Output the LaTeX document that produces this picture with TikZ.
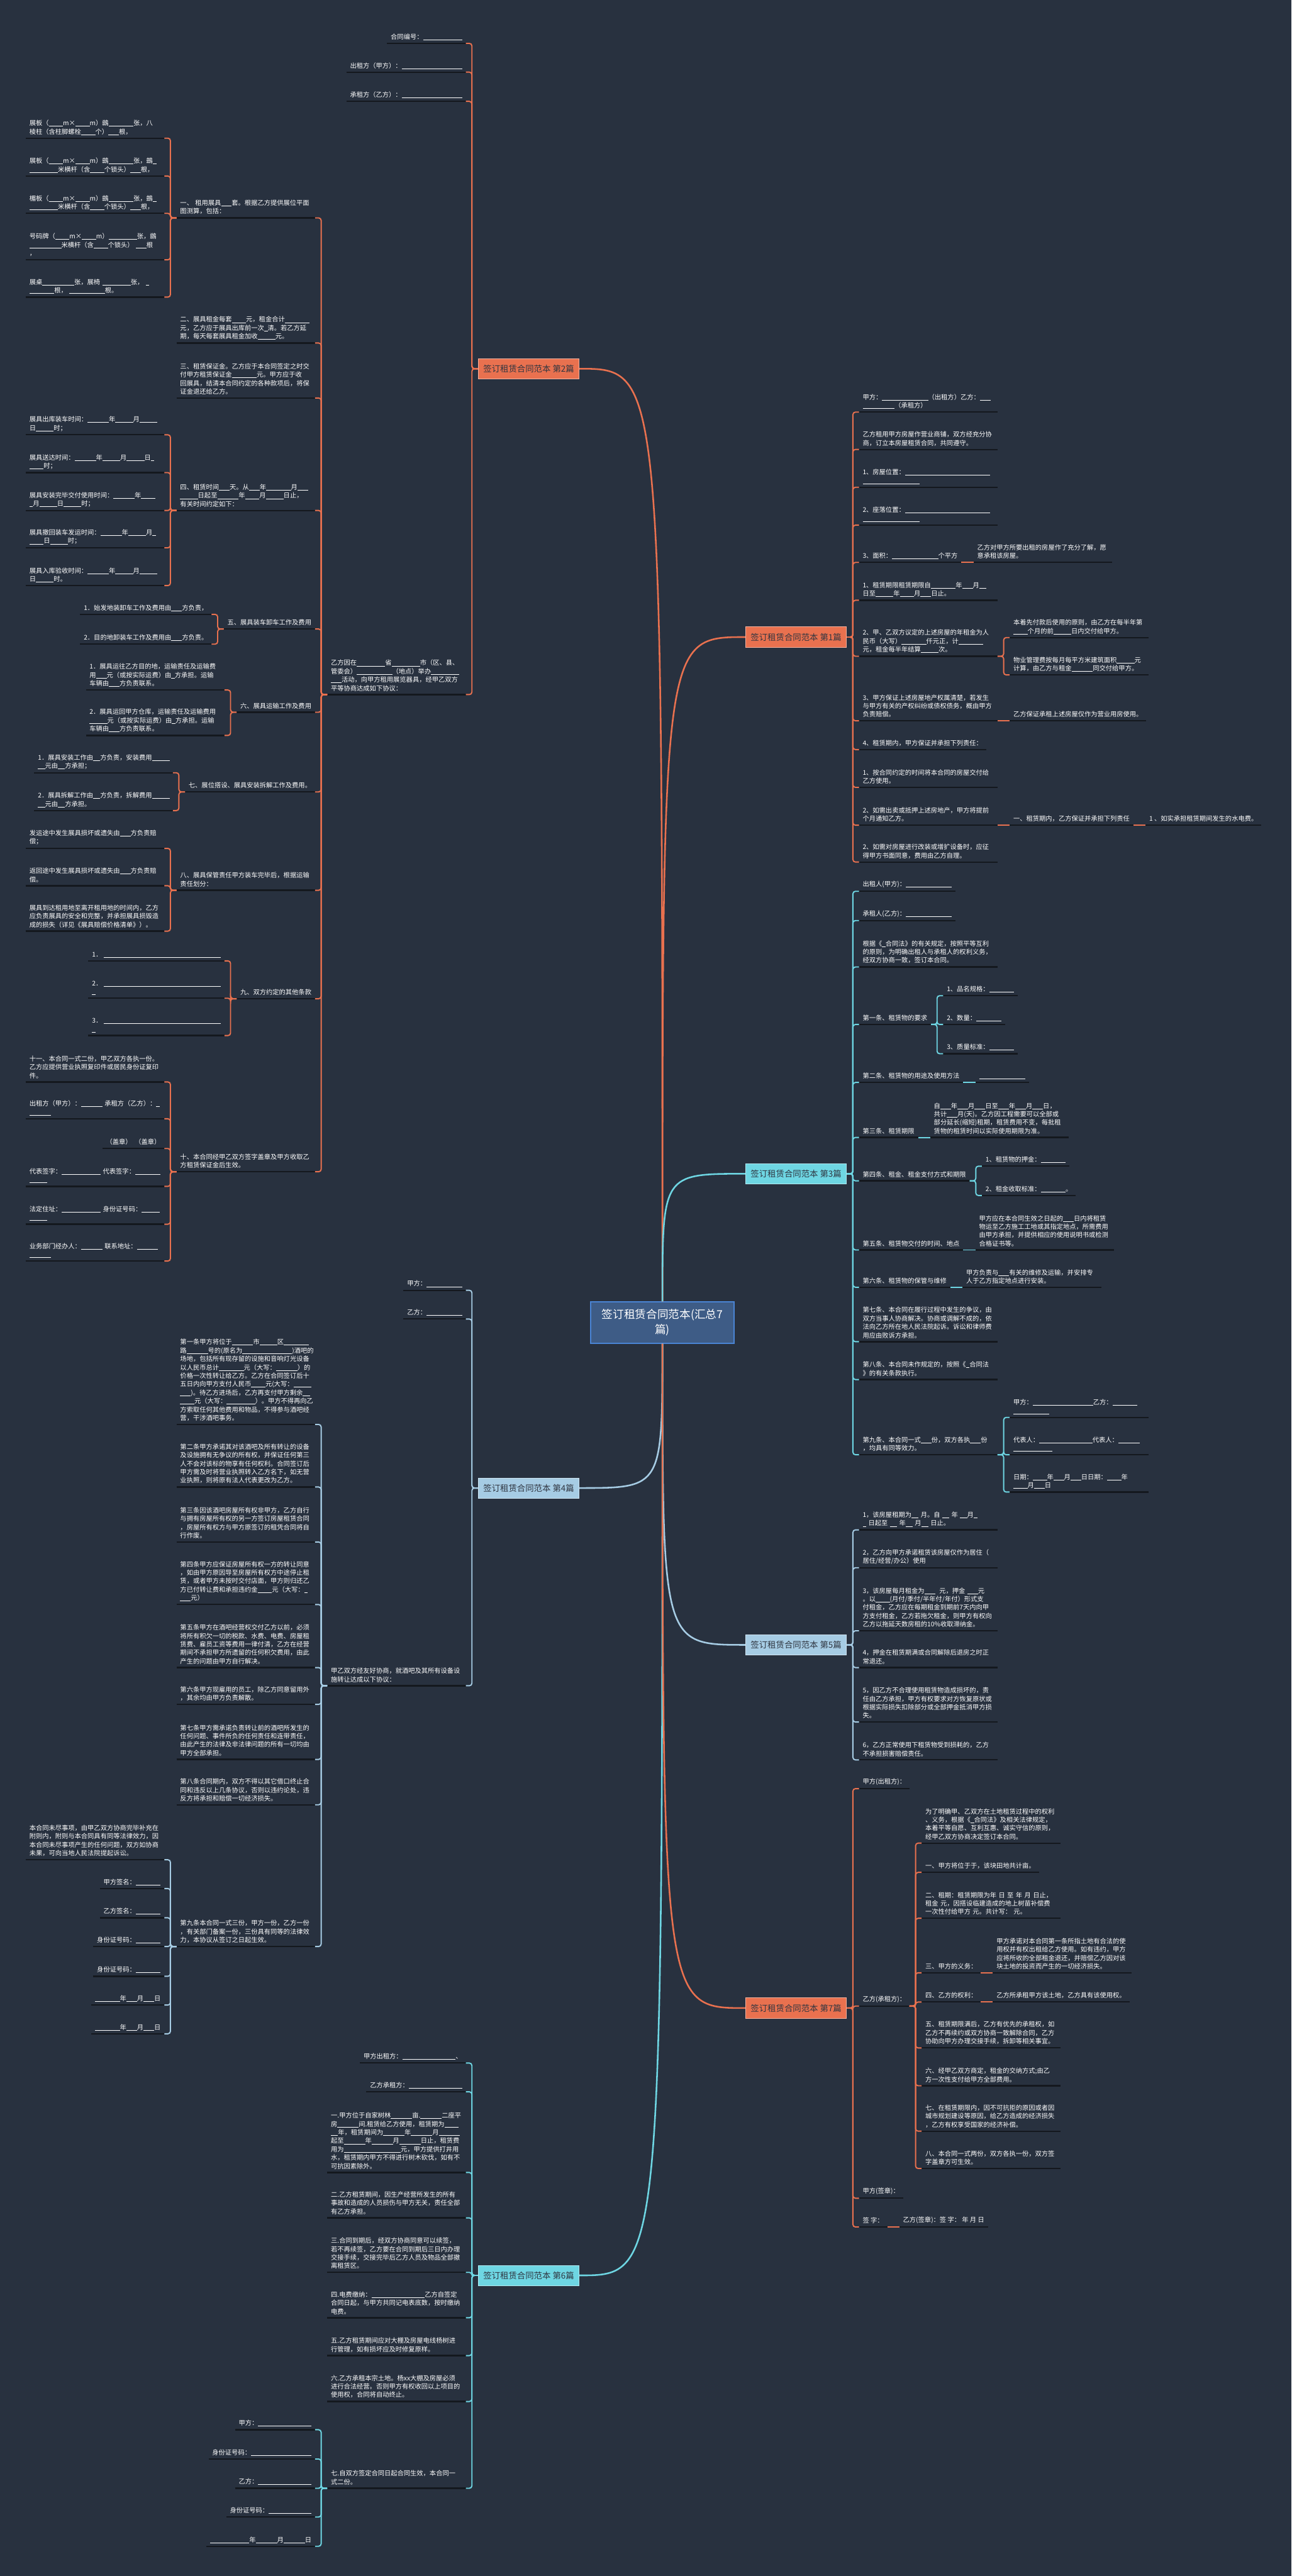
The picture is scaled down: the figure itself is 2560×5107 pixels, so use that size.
\documentclass[tikz,border=0pt]{standalone}
\usepackage{fontspec}
\setmainfont{Noto Sans CJK SC}
\definecolor{bgc}{HTML}{28313F}
\definecolor{coral}{HTML}{E9714F}
\definecolor{cyanb}{HTML}{6ED6E3}
\definecolor{lblue}{HTML}{A6CCE4}
\definecolor{ulcol}{HTML}{14181E}
\definecolor{cfill}{HTML}{3E5C86}
\definecolor{cbord}{HTML}{4A84D4}
\definecolor{brtext}{HTML}{2F3540}
\newcommand\bl[1]{\rule[-0.12em]{\dimexpr0.55em*#1\relax}{0.06em}}
\newcommand\lfont{\fontsize{6.4pt}{8.35pt}\selectfont}
\newcommand\brfont{\fontsize{8.35pt}{10pt}\selectfont}
\newcommand\cfont{\fontsize{11pt}{15pt}\selectfont}
\tikzset{
  lf/.style={font=\lfont, text=white, inner xsep=3.5pt, inner ysep=3.2pt, align=left,
    append after command={(\tikzlastnode.south west) edge[ulc] (\tikzlastnode.south east)}},
  lw/.style={lf, text width=130pt},
  Lc/.style={lf, anchor=south east, xshift=-12pt},
  Rc/.style={lf, anchor=south west, xshift=12pt},
  Lw/.style={lw, anchor=south east, xshift=-12pt},
  Rw/.style={lw, anchor=south west, xshift=12pt},
  ulc/.style={draw=ulcol, line width=1.4pt},
  br/.style={draw=#1!55!white, line width=0.6pt, fill=#1, text=brtext, font=\brfont,
    minimum width=100pt, minimum height=20pt, inner sep=2pt},
  kc/.style={draw=coral, line width=1.2pt, rounded corners=2.5pt},
  kt/.style={draw=cyanb, line width=1.2pt, rounded corners=2.5pt},
  kb/.style={draw=lblue, line width=1.2pt, rounded corners=2.5pt},
  mc/.style={line width=1.6pt},
}
\begin{document}
\begin{tikzpicture}[x=0.5pt,y=-0.5pt]
\fill[bgc] (0,0) rectangle (2560,5107);
\useasboundingbox (0,0) rectangle (2560,5107);

% center
\node[draw=cbord, line width=1pt, fill=cfill, text=white, font=\cfont, align=center,
  minimum width=142pt, minimum height=41pt, inner sep=2pt] (c) at (1313,2622) {签订租赁合同范本(汇总7\\篇)};

% branches
\node[br=coral] (b1) at (1578,1263) {签订租赁合同范本 第1篇};
\node[br=coral] (b2) at (1048,731) {签订租赁合同范本 第2篇};
\node[br=cyanb] (b3) at (1578,2327) {签订租赁合同范本 第3篇};
\node[br=lblue] (b4) at (1048,2950) {签订租赁合同范本 第4篇};
\node[br=lblue] (b5) at (1578,3261) {签订租赁合同范本 第5篇};
\node[br=cyanb] (b6) at (1048,4511) {签订租赁合同范本 第6篇};
\node[br=coral] (b7) at (1578,3981) {签订租赁合同范本 第7篇};

\draw[mc, coral] (c.north) .. controls (c.north |- b2.east) .. (b2.east);
\draw[mc, coral] (c.north) .. controls (c.north |- b1.west) .. (b1.west);
\draw[mc, cyanb] (c.north) .. controls (c.north |- b3.west) .. (b3.west);
\draw[mc, lblue] (c.south) .. controls (c.south |- b4.east) .. (b4.east);
\draw[mc, lblue] (c.south) .. controls (c.south |- b5.west) .. (b5.west);
\draw[mc, cyanb] (c.south) .. controls (c.south |- b6.east) .. (b6.east);
\draw[mc, coral] (c.south) .. controls (c.south |- b7.west) .. (b7.west);

% ================= 第2篇 =================
\node[Lc] (A2a) at (b2.west |- 0,86) {合同编号：\bl{11}};
\node[Lc] (A2b) at (b2.west |- 0,143) {出租方（甲方）：\bl{17}};
\node[Lc] (A2c) at (b2.west |- 0,201) {承租方（乙方）：\bl{17}};
\node[Lw] (A2d) at (b2.west |- 0,1377) {乙方因在\bl{8}省\bl{8}市（区、县、\\管委会）\bl{10}（地点）举办\bl{8}\\\bl{3}活动，向甲方租用展览器具，经甲乙双方\\平等协商达成如下协议：};
\foreach \n in {A2a,A2b,A2c,A2d} \draw[kc] (b2.west) -- ++(-12,0) |- (\n.south east);

\node[Lw] (A2d1) at (A2d.south west |- 0,432) {一、 租用展具\bl{3}套。根据乙方提供展位平面\\图测算，包括：};
\node[Lw] (A2d2) at (A2d.south west |- 0,680) {二、展具租金每套\bl{4}元，租金合计\bl{7}\\元，乙方应于展具出库前一次\bl{1}清。若乙方延\\期，每天每套展具租金加收\bl{5}元。};
\node[Lw] (A2d3) at (A2d.south west |- 0,789) {三、租赁保证金。乙方应于本合同签定之时交\\付甲方租赁保证金\bl{7}元。甲方应于收\\回展具，结清本合同约定的各种款项后，将保\\证金退还给乙方。};
\node[Lw] (A2d4) at (A2d.south west |- 0,1012) {四、租赁时间\bl{3}天。从\bl{3}年\bl{7}月\bl{3}\\\bl{5}日起至\bl{6}年\bl{4}月\bl{5}日止，\\有关时间约定如下：};
\node[Lc] (A2d5) at (A2d.south west |- 0,1247) {五、展具装车卸车工作及费用};
\node[Lc] (A2d6) at (A2d.south west |- 0,1412) {六、展具运输工作及费用};
\node[Lc] (A2d7) at (A2d.south west |- 0,1570) {七、展位搭设、展具安装拆解工作及费用。};
\node[Lw] (A2d8) at (A2d.south west |- 0,1765) {八、展具保管责任甲方装车完毕后，根据运输\\责任划分：};
\node[Lc] (A2d9) at (A2d.south west |- 0,1980) {九、双方约定的其他条款};
\node[Lw] (A2d10) at (A2d.south west |- 0,2323) {十、本合同经甲乙双方签字盖章及甲方收取乙\\方租赁保证金后生效。};
\foreach \n in {A2d1,A2d2,A2d3,A2d4,A2d5,A2d6,A2d7,A2d8,A2d9,A2d10} \draw[kc] (A2d.south west) -- ++(-12,0) |- (\n.south east);

\node[Lw] (A2d1a) at (A2d1.south west |- 0,274) {展板（\bl{4}m×\bl{4}m）鷀\bl{7}张，八\\棱柱（含柱脚螺栓\bl{4}个）\bl{3}根，};
\node[Lw] (A2d1b) at (A2d1.south west |- 0,349) {展板（\bl{4}m×\bl{4}m）鷀\bl{7}张，鷀\bl{1}\\\bl{8}米横杆（含\bl{4}个锁头）\bl{3}根，};
\node[Lw] (A2d1c) at (A2d1.south west |- 0,423) {楣板（\bl{4}m×\bl{4}m）鷀\bl{7}张，鷀\bl{1}\\\bl{8}米横杆（含\bl{4}个锁头）\bl{3}根，};
\node[Lw] (A2d1d) at (A2d1.south west |- 0,515) {号码牌（\bl{4}m×\bl{4}m）\bl{8}张，鷀\\\bl{9}米横杆（含\bl{4}个锁头）~\bl{3}根\\，};
\node[Lw] (A2d1e) at (A2d1.south west |- 0,589) {展桌\bl{9}张，展椅~\bl{8}张，~\bl{1}\\\bl{7}根，~\bl{10}根。};
\foreach \n in {A2d1a,A2d1b,A2d1c,A2d1d,A2d1e} \draw[kc] (A2d1.south west) -- ++(-12,0) |- (\n.south east);

\node[Lw] (A2d4a) at (A2d4.south west |- 0,862) {展具出库装车时间：\bl{6}年\bl{5}月\bl{5}\\日\bl{5}时；};
\node[Lw] (A2d4b) at (A2d4.south west |- 0,937) {展具送达时间：\bl{6}年\bl{5}月\bl{5}日\bl{1}\\\bl{4}时；};
\node[Lw] (A2d4c) at (A2d4.south west |- 0,1012) {展具安装完毕交付使用时间：\bl{6}年\bl{4}\\\bl{1}月\bl{5}日\bl{5}时；};
\node[Lw] (A2d4d) at (A2d4.south west |- 0,1086) {展具撤回装车发运时间：\bl{6}年\bl{5}月\bl{1}\\\bl{4}日\bl{5}时；};
\node[Lw] (A2d4e) at (A2d4.south west |- 0,1161) {展具入库验收时间：\bl{6}年\bl{5}月\bl{5}\\日\bl{5}时。};
\foreach \n in {A2d4a,A2d4b,A2d4c,A2d4d,A2d4e} \draw[kc] (A2d4.south west) -- ++(-12,0) |- (\n.south east);

\node[Lc] (A2d5a) at (A2d5.south west |- 0,1218) {1．始发地装卸车工作及费用由\bl{3}方负责，};
\node[Lc] (A2d5b) at (A2d5.south west |- 0,1277) {2．目的地卸装车工作及费用由\bl{3}方负责。};
\foreach \n in {A2d5a,A2d5b} \draw[kc] (A2d5.south west) -- ++(-12,0) |- (\n.south east);

\node[Lw] (A2d6a) at (A2d6.south west |- 0,1368) {1．展具运往乙方目的地，运输责任及运输费\\用\bl{3}元（或按实际运费）由\bl{1}方承担。运输\\车辆由\bl{3}方负责联系。};
\node[Lw] (A2d6b) at (A2d6.south west |- 0,1458) {2．展具运回甲方仓库，运输责任及运输费用\\\bl{5}元（或按实际运费）由\bl{1}方承担。运输\\车辆由\bl{3}方负责联系。};
\foreach \n in {A2d6a,A2d6b} \draw[kc] (A2d6.south west) -- ++(-12,0) |- (\n.south east);

\node[Lw] (A2d7a) at (A2d7.south west |- 0,1532) {1．展具安装工作由\bl{2}方负责，安装费用\bl{5}\\\bl{2}元由\bl{2}方承担；};
\node[Lw] (A2d7b) at (A2d7.south west |- 0,1607) {2．展具拆解工作由\bl{2}方负责，拆解费用\bl{5}\\\bl{2}元由\bl{2}方承担。};
\foreach \n in {A2d7a,A2d7b} \draw[kc] (A2d7.south west) -- ++(-12,0) |- (\n.south east);

\node[Lw] (A2d8a) at (A2d8.south west |- 0,1682) {发运途中发生展具损坏或遗失由\bl{3}方负责赔\\偿；};
\node[Lw] (A2d8b) at (A2d8.south west |- 0,1756) {返回途中发生展具损坏或遗失由\bl{3}方负责赔\\偿。};
\node[Lw] (A2d8c) at (A2d8.south west |- 0,1846) {展具到达租用地至离开租用地的时间内，乙方\\应负责展具的安全和完整，并承担展具损毁造\\成的损失（详见《展具赔偿价格清单》）。};
\foreach \n in {A2d8a,A2d8b,A2d8c} \draw[kc] (A2d8.south west) -- ++(-12,0) |- (\n.south east);

\node[Lc] (A2d9a) at (A2d9.south west |- 0,1905) {1．~\bl{33}};
\node[Lc] (A2d9b) at (A2d9.south west |- 0,1979) {2．~\bl{33}\\\bl{1}};
\node[Lc] (A2d9c) at (A2d9.south west |- 0,2053) {3．~\bl{33}\\\bl{1}};
\foreach \n in {A2d9a,A2d9b,A2d9c} \draw[kc] (A2d9.south west) -- ++(-12,0) |- (\n.south east);

\node[Lw] (A2d10a) at (A2d10.south west |- 0,2145) {十一、本合同一式二份，甲乙双方各执一份。\\乙方应提供营业执照复印件或居民身份证复印\\件。};
\node[Lw] (A2d10b) at (A2d10.south west |- 0,2218) {出租方（甲方）：\bl{6}~承租方（乙方）：\bl{1}\\\bl{6}};
\node[Lc] (A2d10c) at (A2d10.south west |- 0,2277) {（盖章）~~（盖章）};
\node[Lw] (A2d10d) at (A2d10.south west |- 0,2352) {代表签字：\bl{11}~代表签字：\bl{7}\\\bl{5}};
\node[Lw] (A2d10e) at (A2d10.south west |- 0,2427) {法定住址：\bl{11}~身份证号码：\bl{5}\\\bl{5}};
\node[Lw] (A2d10f) at (A2d10.south west |- 0,2500) {业务部门经办人：\bl{6}~联系地址：\bl{6}\\\bl{6}};
\foreach \n in {A2d10a,A2d10b,A2d10c,A2d10d,A2d10e,A2d10f} \draw[kc] (A2d10.south west) -- ++(-12,0) |- (\n.south east);

% ================= 第4篇 =================
\node[Lc] (A4a) at (b4.west |- 0,2558) {甲方：\bl{10}};
\node[Lc] (A4b) at (b4.west |- 0,2615) {乙方：\bl{10}};
\node[Lw] (A4c) at (b4.west |- 0,3342) {甲乙双方经友好协商，就酒吧及其所有设备设\\施转让达成以下协议：};
\foreach \n in {A4a,A4b,A4c} \draw[kb] (b4.west) -- ++(-12,0) |- (\n.south east);

\node[Lw] (A4c1) at (A4c.south west |- 0,2824) {第一条甲方将位于\bl{6}市\bl{5}区\bl{7}\\路\bl{6}号的(原名为\bl{14})酒吧的\\场地，包括所有现存留的设施和音响灯光设备\\以人民币总计\bl{7}元（大写：\bl{6}）的\\价格一次性转让给乙方。乙方在合同签订后十\\五日内向甲方支付人民币\bl{4}元(大写：\bl{5}\\\bl{3})。待乙方进场后，乙方再支付甲方剩余\bl{2}\\\bl{4}元（大写：\bl{8}）。甲方不得再向乙\\方索取任何其他费用和物品，不得参与酒吧经\\营，干涉酒吧事务。};
\node[Lw] (A4c2) at (A4c.south west |- 0,2948) {第二条甲方承诺其对该酒吧及所有转让的设备\\及设施拥有无争议的所有权，并保证任何第三\\人不会对该标的物享有任何权利。合同签订后\\甲方需及时将营业执照转入乙方名下，如无营\\业执照，则将原有法人代表更改为乙方。};
\node[Lw] (A4c3) at (A4c.south west |- 0,3057) {第三条因该酒吧房屋所有权非甲方，乙方自行\\与拥有房屋所有权的另一方签订房屋租赁合同\\，房屋所有权方与甲方原签订的租凭合同将自\\行作废。};
\node[Lw] (A4c4) at (A4c.south west |- 0,3181) {第四条甲方应保证房屋所有权一方的转让同意\\，如由甲方原因导至房屋所有权方中途停止租\\赁，或者甲方未按时交付店面，甲方则归还乙\\方已付转让费和承担违约金\bl{4}元（大写：\bl{1}\\\bl{3}元）};
\node[Lw] (A4c5) at (A4c.south west |- 0,3306) {第五条甲方在酒吧经营权交付乙方以前，必须\\将所有积欠一切的税款、水费、电费、房屋租\\赁费、雇员工资等费用一律付清，乙方在经营\\期间不承担甲方所遗留的任何积欠费用，由此\\产生的问题由甲方自行解决。};
\node[Lw] (A4c6) at (A4c.south west |- 0,3379) {第六条甲方现雇用的员工，除乙方同意留用外\\，其余均由甲方负责解散。};
\node[Lw] (A4c7) at (A4c.south west |- 0,3488) {第七条甲方需承诺负责转让前的酒吧所发生的\\任何问题、事件所负的任何责任和连带责任，\\由此产生的法律及非法律问题的所有一切均由\\甲方全部承担。};
\node[Lw] (A4c8) at (A4c.south west |- 0,3578) {第八条合同期内，双方不得以其它借口终止合\\同和违反以上几条协议，否则以违约论处，违\\反方将承担和赔偿一切经济损失。};
\node[Lw] (A4c9) at (A4c.south west |- 0,3859) {第九条本合同一式三份，甲方一份，乙方一份\\，有关部门备案一份，三份具有同等的法律效\\力，本协议从签订之日起生效。};
\foreach \n in {A4c1,A4c2,A4c3,A4c4,A4c5,A4c6,A4c7,A4c8,A4c9} \draw[kb] (A4c.south west) -- ++(-12,0) |- (\n.south east);

\node[Lw] (A4c9a) at (A4c9.south west |- 0,3687) {本合同未尽事项，由甲乙双方协商完毕补充在\\附则内，附则与本合同具有同等法律效力，因\\本合同未尽事项产生的任何问题，双方如协商\\未果，可向当地人民法院提起诉讼。};
\node[Lc] (A4c9b) at (A4c9.south west |- 0,3744) {甲方签名：\bl{7}};
\node[Lc] (A4c9c) at (A4c9.south west |- 0,3802) {乙方签名：\bl{7}};
\node[Lc] (A4c9d) at (A4c9.south west |- 0,3859) {身份证号码：\bl{7}};
\node[Lc] (A4c9e) at (A4c9.south west |- 0,3918) {身份证号码：\bl{7}};
\node[Lc] (A4c9f) at (A4c9.south west |- 0,3975) {\bl{7}年\bl{3}月\bl{3}日};
\node[Lc] (A4c9g) at (A4c9.south west |- 0,4032) {\bl{7}年\bl{3}月\bl{3}日};
\foreach \n in {A4c9a,A4c9b,A4c9c,A4c9d,A4c9e,A4c9f,A4c9g} \draw[kb] (A4c9.south west) -- ++(-12,0) |- (\n.south east);

% ================= 第6篇 =================
\node[Lc] (A6a) at (b6.west |- 0,4090) {甲方出租方：\bl{15}、};
\node[Lc] (A6b) at (b6.west |- 0,4147) {乙方承租方：\bl{15}};
\node[Lw] (A6c) at (b6.west |- 0,4307) {一.甲方位于自家树林\bl{6}亩.\bl{6}二座平\\房\bl{6}间.租赁给乙方使用，租赁期为\bl{4}\\\bl{2}年，租赁期间为\bl{6}年\bl{6}月\bl{6}\\起至\bl{6}年\bl{6}月\bl{6}日止，租赁费\\用为\bl{16}元，甲方提供打井用\\水，租赁期内甲方不得进行树木砍伐，如有不\\可抗因素除外。};
\node[Lw] (A6d) at (b6.west |- 0,4397) {二.乙方租赁期间，因生产经营所发生的所有\\事故和造成的人员损伤与甲方无关，责任全部\\有乙方承担。};
\node[Lw] (A6e) at (b6.west |- 0,4505) {三.合同到期后，经双方协商同意可以续签，\\若不再续签，乙方要在合同到期后三日内办理\\交接手续，交接完毕后乙方人员及物品全部撤\\离租赁区。};
\node[Lw] (A6f) at (b6.west |- 0,4595) {四.电费缴纳：\bl{15}乙方自签定\\合同日起，与甲方共同记电表底数，按时缴纳\\电费。};
\node[Lw] (A6g) at (b6.west |- 0,4670) {五.乙方租赁期间应对大棚及房屋电线杨树进\\行管理，如有损坏应及时修复原样。};
\node[Lw] (A6h) at (b6.west |- 0,4761) {六.乙方承租本宗土地。杨xx大棚及房屋必须\\进行合法经营。否则甲方有权收回以上项目的\\使用权，合同将自动终止。};
\node[Lw] (A6i) at (b6.west |- 0,4933) {七.自双方签定合同日起合同生效，本合同一\\式二份。};
\foreach \n in {A6a,A6b,A6c,A6d,A6e,A6f,A6g,A6h,A6i} \draw[kt] (b6.west) -- ++(-12,0) |- (\n.south east);

\node[Lc] (A6i1) at (A6i.south west |- 0,4817) {甲方：\bl{15}};
\node[Lc] (A6i2) at (A6i.south west |- 0,4875) {身份证号码：\bl{17}};
\node[Lc] (A6i3) at (A6i.south west |- 0,4933) {乙方：\bl{15}};
\node[Lc] (A6i4) at (A6i.south west |- 0,4990) {身份证号码：\bl{12}};
\node[Lc] (A6i5) at (A6i.south west |- 0,5048) {\bl{11}年\bl{6}月\bl{6}日};
\foreach \n in {A6i1,A6i2,A6i3,A6i4,A6i5} \draw[kt] (A6i.south west) -- ++(-12,0) |- (\n.south east);

% ================= 第1篇 =================
\node[Rw] (A1a) at (b1.east |- 0,817) {甲方：\bl{13}（出租方）乙方：\bl{3}\\\bl{9}（承租方）};
\node[Rw] (A1b) at (b1.east |- 0,891) {乙方租用甲方房屋作营业商铺，双方经充分协\\商，订立本房屋租赁合同，共同遵守。};
\node[Rw] (A1c) at (b1.east |- 0,966) {1、房屋位置：\bl{24}\\\bl{16}};
\node[Rw] (A1d) at (b1.east |- 0,1041) {2、座落位置：\bl{24}\\\bl{16}};
\node[Rc] (A1e) at (b1.east |- 0,1115) {3、面积：\bl{13}个平方};
\node[Rw] (A1f) at (b1.east |- 0,1190) {1、租赁期限租赁期限自\bl{7}年\bl{3}月\bl{2}\\日至\bl{5}年\bl{4}月\bl{3}日止。};
\node[Rw] (A1g) at (b1.east |- 0,1301) {2、甲、乙双方议定的上述房屋的年租金为人\\民币（大写）\bl{7}仟元正，计\bl{7}\\元，租金每半年结算\bl{5}次。};
\node[Rw] (A1h) at (b1.east |- 0,1429) {3、甲方保证上述房屋地产权属清楚，若发生\\与甲方有关的产权纠纷或债权债务，概由甲方\\负责赔偿。};
\node[Rc] (A1i) at (b1.east |- 0,1486) {4、租赁期内，甲方保证并承担下列责任：};
\node[Rw] (A1j) at (b1.east |- 0,1561) {1、按合同约定的时间将本合同的房屋交付给\\乙方使用。};
\node[Rw] (A1k) at (b1.east |- 0,1636) {2、如需出卖或抵押上述房地产，甲方将提前\\个月通知乙方。};
\node[Rw] (A1l) at (b1.east |- 0,1709) {2、如需对房屋进行改装或增扩设备时，应征\\得甲方书面同意，费用由乙方自理。};
\foreach \n in {A1a,A1b,A1c,A1d,A1e,A1f,A1g,A1h,A1i,A1j,A1k,A1l} \draw[kc] (b1.east) -- ++(12,0) |- (\n.south west);

\node[Rw] (A1e1) at (A1e.south east |- 0,1115) {乙方对甲方所要出租的房屋作了充分了解，愿\\意承租该房屋。};
\draw[kc] (A1e.south east) -- (A1e1.south west);
\node[Rw] (A1g1) at (A1g.south east |- 0,1264) {本着先付款后使用的原则，由乙方在每半年第\\\bl{4}个月的前\bl{5}日内交付给甲方。};
\node[Rw] (A1g2) at (A1g.south east |- 0,1338) {物业管理费按每月每平方米建筑面积\bl{5}元\\计算，由乙方与租金\bl{6}同交付给甲方。};
\foreach \n in {A1g1,A1g2} \draw[kc] (A1g.south east) -- ++(12,0) |- (\n.south west);
\node[Rc] (A1h1) at (A1h.south east |- 0,1429) {乙方保证承租上述房屋仅作为营业用房使用。};
\draw[kc] (A1h.south east) -- (A1h1.south west);
\node[Rc] (A1k1) at (A1k.south east |- 0,1636) {一、租赁期内，乙方保证并承担下列责任};
\draw[kc] (A1k.south east) -- (A1k1.south west);
\node[Rc] (A1k1a) at (A1k1.south east |- 0,1636) {1 、如实承担租赁期间发生的水电费。};
\draw[kc] (A1k1.south east) -- (A1k1a.south west);

% ================= 第3篇 =================
\node[Rc] (A3a) at (b3.east |- 0,1767) {出租人(甲方)：\bl{13}};
\node[Rc] (A3b) at (b3.east |- 0,1825) {承租人(乙方)：\bl{13}};
\node[Rw] (A3c) at (b3.east |- 0,1917) {根据《\bl{1}合同法》的有关规定，按照平等互利\\的原则，为明确出租人与承租人的权利义务，\\经双方协商一致，签订本合同。};
\node[Rc] (A3d) at (b3.east |- 0,2031) {第一条、租赁物的要求};
\node[Rc] (A3e) at (b3.east |- 0,2146) {第二条、租赁物的用途及使用方法};
\node[Rc] (A3f) at (b3.east |- 0,2255) {第三条、租赁期限};
\node[Rc] (A3g) at (b3.east |- 0,2341) {第四条、租金、租金支付方式和期限};
\node[Rc] (A3h) at (b3.east |- 0,2478) {第五条、租赁物交付的时间、地点};
\node[Rc] (A3i) at (b3.east |- 0,2552) {第六条、租赁物的保管与维修};
\node[Rw] (A3j) at (b3.east |- 0,2660) {第七条、本合同在履行过程中发生的争议，由\\双方当事人协商解决。协商或调解不成的，依\\法向乙方所在地人民法院起诉。诉讼和律师费\\用应由败诉方承担。};
\node[Rw] (A3k) at (b3.east |- 0,2735) {第八条、本合同未作规定的，按照《\bl{1}合同法\\》的有关条款执行。};
\node[Rw] (A3l) at (b3.east |- 0,2884) {第九条、本合同一式\bl{3}份，双方各执\bl{3}份\\，均具有同等效力。};
\foreach \n in {A3a,A3b,A3c,A3d,A3e,A3f,A3g,A3h,A3i,A3j,A3k,A3l} \draw[kt] (b3.east) -- ++(12,0) |- (\n.south west);

\node[Rc] (A3d1) at (A3d.south east |- 0,1974) {1、品名规格：\bl{7}};
\node[Rc] (A3d2) at (A3d.south east |- 0,2031) {2、数量：\bl{7}};
\node[Rc] (A3d3) at (A3d.south east |- 0,2089) {3、质量标准：\bl{7}};
\foreach \n in {A3d1,A3d2,A3d3} \draw[kt] (A3d.south east) -- ++(12,0) |- (\n.south west);
\node[Rc] (A3e1) at (A3e.south east |- 0,2146) {\bl{13}};
\draw[kt] (A3e.south east) -- (A3e1.south west);
\node[Rw] (A3f1) at (A3f.south east |- 0,2255) {自\bl{3}年\bl{3}月\bl{3}日至\bl{3}年\bl{3}月\bl{3}日，\\共计\bl{3}月(天)。乙方因工程需要可以全部或\\部分延长(缩短)租期，租赁费用不变，每批租\\赁物的租赁时间以实际使用期限为准。};
\draw[kt] (A3f.south east) -- (A3f1.south west);
\node[Rc] (A3g1) at (A3g.south east |- 0,2312) {1、租赁物的押金：\bl{7}};
\node[Rc] (A3g2) at (A3g.south east |- 0,2370) {2、租金收取标准：\bl{7}。};
\foreach \n in {A3g1,A3g2} \draw[kt] (A3g.south east) -- ++(12,0) |- (\n.south west);
\node[Rw] (A3h1) at (A3h.south east |- 0,2478) {甲方应在本合同生效之日起的\bl{3}日内将租赁\\物运至乙方施工工地或其指定地点，所需费用\\由甲方承担，并提供相应的使用说明书或检测\\合格证书等。};
\draw[kt] (A3h.south east) -- (A3h1.south west);
\node[Rw] (A3i1) at (A3i.south east |- 0,2552) {甲方负责与\bl{3}有关的维修及运输，并安排专\\人于乙方指定地点进行安装。};
\draw[kt] (A3i.south east) -- (A3i1.south west);
\node[Rw] (A3l1) at (A3l.south east |- 0,2810) {甲方：\bl{17}乙方：\bl{7}\\\bl{10}};
\node[Rw] (A3l2) at (A3l.south east |- 0,2884) {代表人：\bl{15}代表人：\bl{6}\\\bl{11}};
\node[Rw] (A3l3) at (A3l.south east |- 0,2958) {日期：\bl{4}年\bl{3}月\bl{3}日日期：\bl{4}年\\\bl{4}月\bl{3}日};
\foreach \n in {A3l1,A3l2,A3l3} \draw[kt] (A3l.south east) -- ++(12,0) |- (\n.south west);

% ================= 第5篇 =================
\node[Rw] (A5a) at (b5.east |- 0,3033) {1，该房屋租期为\bl{2}~月。自~\bl{2}~年~\bl{2}月\bl{1}\\\bl{1}~日起至~\bl{2}~年\bl{2}~月\bl{2}~日止。};
\node[Rw] (A5b) at (b5.east |- 0,3108) {2，乙方向甲方承诺租赁该房屋仅作为居住（\\居住/经营/办公）使用};
\node[Rw] (A5c) at (b5.east |- 0,3233) {3，该房屋每月租金为\bl{3}~~元，押金~\bl{3}元\\。以\bl{4}(月付/季付/半年付/年付）形式支\\付租金，乙方应在每期租金到期前7天内向甲\\方支付租金，乙方若拖欠租金，则甲方有权向\\乙方以拖延天数房租的10\%收取滞纳金。};
\node[Rw] (A5d) at (b5.east |- 0,3306) {4，押金在租赁期满或合同解除后退房之时正\\常退还。};
\node[Rw] (A5e) at (b5.east |- 0,3414) {5，因乙方不合理使用租赁物造成损坏的，责\\任由乙方承担，甲方有权要求对方恢复原状或\\根据实际损失扣除部分或全部押金抵消甲方损\\失。};
\node[Rw] (A5f) at (b5.east |- 0,3489) {6，乙方正常使用下租赁物受到损耗的，乙方\\不承担损害赔偿责任。};
\foreach \n in {A5a,A5b,A5c,A5d,A5e,A5f} \draw[kb] (b5.east) -- ++(12,0) |- (\n.south west);

% ================= 第7篇 =================
\node[Rc] (A7a) at (b7.east |- 0,3546) {甲方(出租方)：};
\node[Rc] (A7b) at (b7.east |- 0,3977) {乙方(承租方)：};
\node[Rc] (A7c) at (b7.east |- 0,4358) {甲方(签章)：};
\node[Rc] (A7d) at (b7.east |- 0,4415) {签~字：};
\foreach \n in {A7a,A7b,A7c,A7d} \draw[kc] (b7.east) -- ++(12,0) |- (\n.south west);

\node[Rw] (A7b1) at (A7b.south east |- 0,3654) {为了明确甲、乙双方在土地租赁过程中的权利\\、义务，根据《\bl{1}合同法》及相关法律规定，\\本着平等自愿、互利互惠、诚实守信的原则，\\经甲乙双方协商决定签订本合同。};
\node[Rc] (A7b2) at (A7b.south east |- 0,3712) {一、甲方将位于于，该块田地共计亩。};
\node[Rw] (A7b3) at (A7b.south east |- 0,3803) {二、租期：租赁期限为年~日~至~年~月~日止，\\租金~元，因搭设临建造成的地上树苗补偿费\\一次性付给甲方~元。共计写：~元。};
\node[Rc] (A7b4) at (A7b.south east |- 0,3911) {三、甲方的义务：};
\node[Rc] (A7b5) at (A7b.south east |- 0,3969) {四、乙方的权利：};
\node[Rw] (A7b6) at (A7b.south east |- 0,4060) {五、租赁期限满后，乙方有优先的承租权，如\\乙方不再续约或双方协商一致解除合同，乙方\\协助向甲方办理交接手续，拆卸等相关事宜。};
\node[Rw] (A7b7) at (A7b.south east |- 0,4135) {六、经甲乙双方商定，租金的交纳方式;由乙\\方一次性支付给甲方全部费用。};
\node[Rw] (A7b8) at (A7b.south east |- 0,4225) {七、在租赁期限内，因不可抗拒的原因或者因\\城市规划建设等原因，给乙方造成的经济损失\\，乙方有权享受国家的经济补偿。};
\node[Rw] (A7b9) at (A7b.south east |- 0,4299) {八、本合同一式两份，双方各执一份，双方签\\字盖章方可生效。};
\foreach \n in {A7b1,A7b2,A7b3,A7b4,A7b5,A7b6,A7b7,A7b8,A7b9} \draw[kc] (A7b.south east) -- ++(12,0) |- (\n.south west);

\node[Rw] (A7b4a) at (A7b4.south east |- 0,3911) {甲方承诺对本合同第一条所指土地有合法的使\\用权并有权出租给乙方使用。如有违约，甲方\\应将所收的全部租金退还，并赔偿乙方因对该\\块土地的投资而产生的一切经济损失。};
\draw[kc] (A7b4.south east) -- (A7b4a.south west);
\node[Rc] (A7b5a) at (A7b5.south east |- 0,3969) {乙方所承租甲方该土地，乙方具有该使用权。};
\draw[kc] (A7b5.south east) -- (A7b5a.south west);
\node[Rc] (A7d1) at (A7d.south east |- 0,4415) {乙方(签章)：签~字：~年~月~日};
\draw[kc] (A7d.south east) -- (A7d1.south west);

\end{tikzpicture}
\end{document}
